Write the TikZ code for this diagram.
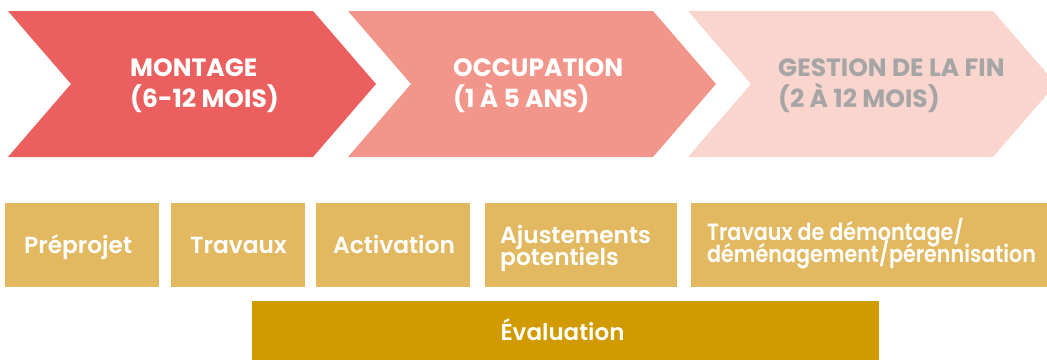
\documentclass[tikz,border=0pt]{standalone}
\usepackage{fontspec}
\setmainfont{Poppins}
\newfontfamily\semib{Poppins SemiBold}
\newfontfamily\semibc{Poppins SemiBold}[FakeStretch=0.88]
\definecolor{cA}{HTML}{EB5F5F}
\definecolor{cB}{HTML}{F2958B}
\definecolor{cC}{HTML}{F9D5CD}
\definecolor{gtxt}{HTML}{A5A5A5}
\definecolor{boxc}{HTML}{E2B961}
\definecolor{evalc}{HTML}{D19A00}
\newcommand{\twolns}[3]{\vtop{\lineskiplimit=-\maxdimen\baselineskip=#1\hbox{#2}\hbox{#3}}}
\tikzset{
  phasetxt/.style={anchor=base west, inner sep=0pt, font=\fontsize{25}{31}\selectfont\bfseries},
  boxtxt/.style={anchor=base west, inner sep=0pt, text=white, font=\fontsize{23.3}{22}\selectfont\semib},
  stagebox/.style={fill=boxc, draw=none},
}
\begin{document}
\begin{tikzpicture}[x=1pt,y=1pt]
\useasboundingbox (0,0) rectangle (1047,360);
% chevrons (image y -> 360 - y)
\fill[cA] (8,349) -- (313,349) -- (376,276) -- (313,203) -- (8,203) -- (71,276) -- cycle;
\fill[cB] (348,349) -- (653,349) -- (716,276) -- (653,203) -- (348,203) -- (411,276) -- cycle;
\begin{scope}
\clip (0,0) rectangle (1047,360);
\fill[cC] (688,349) -- (993,349) -- (1056,276) -- (993,203) -- (688,203) -- (751,276) -- cycle;
\end{scope}
\node[phasetxt, text=white] (montage) at (130,284) {\twolns{31pt}{MONTAGE}{(6-12 MOIS)}};
\node[phasetxt, text=white] (occupation) at (453,284) {\twolns{31pt}{OCCUPATION}{(1 À 5 ANS)}};
\node[phasetxt, text=gtxt] (gestion) at (778,284) {\twolns{31pt}{GESTION DE LA FIN}{(2 À 12 MOIS)}};
% stage boxes
\fill[stagebox] (5,73) rectangle (159,157);
\fill[stagebox] (171,73) rectangle (305,157);
\fill[stagebox] (316,73) rectangle (470,157);
\fill[stagebox] (485,73) rectangle (677,157);
\fill[stagebox] (691,73) rectangle (1047,157);
\fill[evalc] (252,0) rectangle (879,59);
\node[boxtxt] (preprojet) at (24,107) {Préprojet};
\node[boxtxt] (travaux) at (190,107) {Travaux};
\node[boxtxt] (activation) at (333,107) {Activation};
\node[boxtxt] (ajust) at (500,117) {\twolns{22pt}{Ajustements}{potentiels}};
\node[boxtxt, font=\fontsize{23.5}{22}\selectfont\semibc] (demont) at (707,120) {\twolns{22pt}{Travaux de démontage/}{déménagement/pérennisation}};
\node[boxtxt, anchor=base, font=\fontsize{23}{22}\selectfont\semib] (eval) at (562.5,20) {Évaluation};
\end{tikzpicture}
\end{document}
